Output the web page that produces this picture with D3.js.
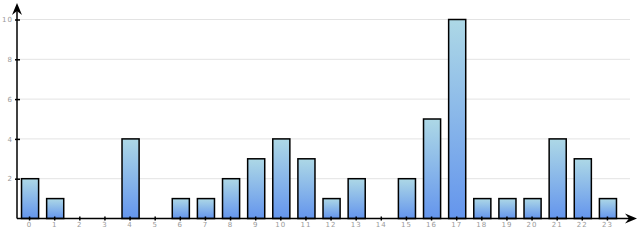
<!DOCTYPE html>
<html><head><meta charset="utf-8">
<script src="https://cdn.jsdelivr.net/npm/d3@7"></script>
<style>body{margin:0;background:#fff}svg{display:block}</style>
</head><body>
<script>
const categories = ["0","1","2","3","4","5","6","7","8","9","10","11","12","13","14","15","16","17","18","19","20","21","22","23"];
const values = [2,1,0,0,4,0,1,1,2,3,4,3,1,2,0,2,5,10,1,1,1,4,3,1];
const yTicks = [2,4,6,8,10];

const W = 640, H = 240;
const svg = d3.select("body").append("svg").attr("width", W).attr("height", H);
const defs = svg.append("defs");
const g = defs.append("linearGradient").attr("id","bg").attr("x1",0).attr("y1",0).attr("x2",0).attr("y2",1);
g.append("stop").attr("offset","0%").attr("stop-color","#add8e6");
g.append("stop").attr("offset","100%").attr("stop-color","#6495ed");

const x0 = 17, baseY = 218.5;
const x = d3.scaleBand().domain(categories).range([x0, 620]).paddingInner(0.32).paddingOuter(0.16);
const y = d3.scaleLinear().domain([0, 10]).range([baseY, 19.5]);

// grid
svg.append("g").selectAll("line").data(yTicks).join("line")
  .attr("x1", x0).attr("x2", 630).attr("y1", d => y(d)).attr("y2", d => y(d))
  .attr("stroke", "#e3e3e3").attr("stroke-width", 1);

// bars
const data = values.map((v,i)=>({c:categories[i], v})).filter(d => d.v > 0);
svg.append("g").selectAll("rect").data(data).join("rect")
  .attr("x", d => x(d.c)+0.5).attr("width", x.bandwidth())
  .attr("y", d => y(d.v)).attr("height", d => y(0) - y(d.v))
  .attr("fill", "url(#bg)").attr("stroke", "#000").attr("stroke-width", 1.5);

// axes
const xa = svg.append("g").attr("transform", `translate(0,${baseY})`)
  .call(d3.axisBottom(x).tickSize(0).tickPadding(3.5));
xa.select(".domain").remove();
xa.selectAll(".tick").append("line").attr("y1",-2).attr("y2",2).attr("stroke","#000").attr("stroke-width",1.5);
xa.selectAll("text").attr("fill","#999").attr("font-size",7).attr("font-family","DejaVu Sans").attr("letter-spacing",1);

const ya = svg.append("g").attr("transform", `translate(${x0},0)`)
  .call(d3.axisLeft(y).tickValues(yTicks).tickSize(0).tickPadding(4));
ya.select(".domain").remove();
ya.selectAll(".tick").append("line").attr("x1",-2).attr("x2",3).attr("stroke","#000").attr("stroke-width",1.5);
ya.selectAll("text").attr("fill","#999").attr("font-size",7).attr("font-family","DejaVu Sans").attr("letter-spacing",1);

// axis lines
svg.append("line").attr("x1",x0).attr("x2",x0).attr("y1",baseY).attr("y2",6).attr("stroke","#000").attr("stroke-width",1.5);
svg.append("line").attr("x1",x0).attr("x2",632).attr("y1",baseY).attr("y2",baseY).attr("stroke","#000").attr("stroke-width",1.5);
// arrowheads
svg.append("path").attr("d",`M${x0},3 L${x0+5},15 L${x0},11 L${x0-5},15 Z`).attr("fill","#000");
svg.append("path").attr("d",`M637,${baseY} L625,${baseY-5} L629,${baseY} L625,${baseY+5} Z`).attr("fill","#000");
</script>
</body></html>
